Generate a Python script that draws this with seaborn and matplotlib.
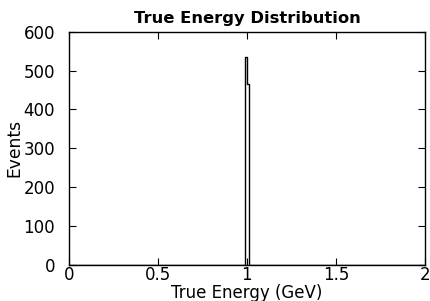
import numpy as np
import pandas as pd
import matplotlib
matplotlib.use("Agg")
import matplotlib.pyplot as plt
import seaborn as sns

# Data
bin_centers = [0.995, 1.005]     # GeV
bin_counts = [535, 465]          # events
bin_width = 0.01
x_ticks = [0, 0.5, 1, 1.5, 2]
x_tick_labels = ["0", "0.5", "1", "1.5", "2"]
y_ticks = [0, 100, 200, 300, 400, 500, 600]

sns.set_theme(style="ticks")
plt.rcParams['font.family'] = ['DejaVu Sans']
plt.rcParams['text.color'] = 'black'
plt.rcParams['axes.labelcolor'] = 'black'

fig = plt.figure(figsize=(4.30, 3.01), dpi=100)
ax = fig.add_axes([0.1605, 0.1196, 0.8275, 0.7751])

df = pd.DataFrame({"energy": bin_centers, "count": bin_counts})
sns.histplot(data=df, x="energy", weights="count", binwidth=bin_width,
             binrange=(0, 2), element="step", fill=False, color="black",
             linewidth=1.0, ax=ax)

ax.set_xlim(0, 2)
ax.set_ylim(0, 600)
ax.set_xticks(x_ticks)
ax.set_xticklabels(x_tick_labels)
ax.set_yticks(y_ticks)

for s in ax.spines.values():
    s.set_visible(True)
    s.set_color("black")
    s.set_linewidth(1.0)

ax.tick_params(axis="both", direction="in", length=5, width=0.8, color="black",
               top=True, right=True, labelsize=12, labelcolor="black")
ax.tick_params(axis="y", pad=10)
ax.tick_params(axis="x", pad=1)

ax.set_title("True Energy Distribution", fontsize=11.8, fontweight="bold",
             pad=6.5, color="black")
ax.set_xlabel("True Energy (GeV)", fontsize=12, labelpad=0, color="black")
ax.set_ylabel("Events", fontsize=12.3, labelpad=0, color="black")

fig.savefig("out.png", dpi=100)
